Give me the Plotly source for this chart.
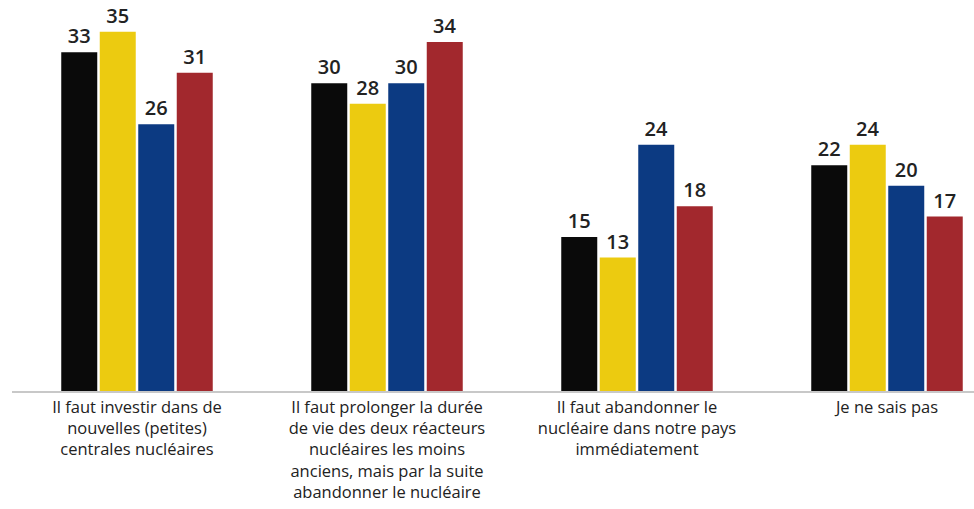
import plotly.graph_objects as go

categories = [
    "Il faut investir dans de<br>nouvelles (petites)<br>centrales nucléaires",
    "Il faut prolonger la durée<br>de vie des deux réacteurs<br>nucléaires les moins<br>anciens, mais par la suite<br>abandonner le nucléaire",
    "Il faut abandonner le<br>nucléaire dans notre pays<br>immédiatement",
    "Je ne sais pas",
]
series_black = [33, 30, 15, 22]
series_yellow = [35, 28, 13, 24]
series_blue = [26, 30, 24, 20]
series_red = [31, 34, 18, 17]

colors = ["#0a0a0a", "#eccb10", "#0c3a82", "#a2282d"]
all_series = [series_black, series_yellow, series_blue, series_red]

fig = go.Figure()
for vals, col in zip(all_series, colors):
    fig.add_trace(go.Bar(
        x=list(range(len(categories))),
        y=vals,
        marker=dict(color=col, line=dict(width=0)),
        text=[str(v) for v in vals],
        textposition="outside",
        textfont=dict(family="Open Sans", size=20, color="#222222", weight=600),
        cliponaxis=False,
        showlegend=False,
    ))

fig.update_layout(
    width=974, height=509,
    margin=dict(l=12, r=0, t=0, b=118),
    paper_bgcolor="white", plot_bgcolor="white",
    barmode="group", bargap=0.384, bargroupgap=0.065,
    xaxis=dict(
        tickmode="array", tickvals=list(range(len(categories))), ticktext=categories,
        range=[-0.5, 3.348], showgrid=False, zeroline=False,
        showline=True, linecolor="#c8c8c8", linewidth=1.5, ticks="",
        tickangle=0, ticklabelstandoff=0, automargin=False,
        tickfont=dict(family="Open Sans", size=16.5, color="#222222"),
    ),
    yaxis=dict(range=[0, 38.1], visible=False, showgrid=False, zeroline=False,
               automargin=False),
)

fig.write_html("out.html")
